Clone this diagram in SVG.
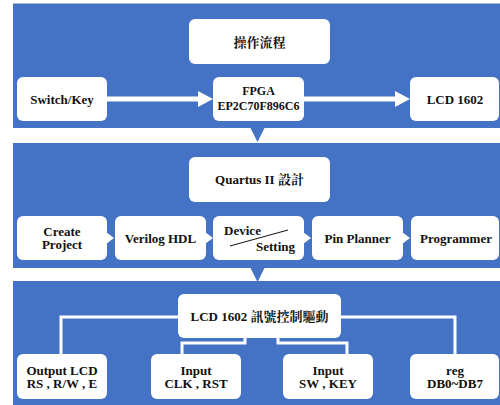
<svg xmlns="http://www.w3.org/2000/svg" width="500" height="405" viewBox="0 0 500 405">
<style>
.panel{fill:#4472C4}
.box{fill:#fff}
.t{font-family:"Liberation Serif","Noto Serif CJK TC","Noto Sans CJK TC",serif;font-weight:bold;font-size:13px;fill:#111;text-anchor:middle}
.s{font-size:12px}
.wl{stroke:#fff;fill:none}
</style>
<rect width="500" height="405" fill="#fff"/>
<g id="panels">
<rect class="panel" x="13" y="4" width="487" height="124"/>
<line x1="13" y1="3.5" x2="500" y2="3.5" stroke="#A8B7D4" stroke-width="1.2"/>
<polygon class="panel" points="250.5,128 264.5,128 257.5,142"/>
<rect class="panel" x="13" y="143" width="487" height="125"/>
<polygon class="panel" points="250.5,268 264.5,268 257.5,282"/>
<rect class="panel" x="13" y="281" width="487" height="124"/>
</g>
<g id="connectors">
<line class="wl" x1="107" y1="99" x2="200" y2="99" stroke-width="5"/>
<polygon fill="#fff" points="198,91 213,99 198,107"/>
<line class="wl" x1="304" y1="99" x2="397" y2="99" stroke-width="5"/>
<polygon fill="#fff" points="395,91 410,99 395,107"/>
<polygon fill="#fff" points="106,232 114,238 106,244"/>
<polygon fill="#fff" points="205,232 213,238 205,244"/>
<polygon fill="#fff" points="303,232 311,238 303,244"/>
<polygon fill="#fff" points="402,232 410,238 402,244"/>
<polyline class="wl" stroke-width="3" points="179,317 61,317 61,355"/>
<polyline class="wl" stroke-width="3" points="340,317 455,317 455,355"/>
<polyline class="wl" stroke-width="3" points="245,337 245,343 182,343 182,355"/>
<polyline class="wl" stroke-width="3" points="278,337 278,343 347,343 347,355"/>
</g>
<g id="n-flow"><rect class="box" x="189" y="19" width="141" height="45" rx="6"/><text class="t" x="259.5" y="46.5">操作流程</text></g>
<g id="n-switch"><rect class="box" x="17" y="77" width="90" height="44" rx="6"/><text class="t" x="62" y="103.5">Switch/Key</text></g>
<g id="n-fpga"><rect class="box" x="213" y="77" width="91" height="44" rx="6"/><text class="t s" x="258.5" y="95">FPGA</text><text class="t s" x="258.5" y="110">EP2C70F896C6</text></g>
<g id="n-lcd"><rect class="box" x="410" y="77" width="89" height="44" rx="6"/><text class="t" x="455" y="103.5">LCD 1602</text></g>
<g id="n-quartus"><rect class="box" x="189" y="157" width="141" height="45" rx="6"/><text class="t" x="259.5" y="184">Quartus II  設計</text></g>
<g id="n-create"><rect class="box" x="17" y="216" width="90" height="44" rx="6"/><text class="t" x="62" y="235.5">Create</text><text class="t" x="62" y="249">Project</text></g>
<g id="n-verilog"><rect class="box" x="115" y="216" width="91" height="44" rx="6"/><text class="t" x="160.5" y="242.5">Verilog HDL</text></g>
<g id="n-device"><rect class="box" x="213" y="216" width="91" height="44" rx="6"/><text class="t" x="242.5" y="235" >Device</text><line x1="230" y1="246" x2="288" y2="230" stroke="#111" stroke-width="1"/><text class="t" x="275.5" y="250.5">Setting</text></g>
<g id="n-pin"><rect class="box" x="312" y="216" width="91" height="44" rx="6"/><text class="t" x="357.5" y="242.5">Pin Planner</text></g>
<g id="n-prog"><rect class="box" x="411" y="216" width="88" height="44" rx="6"/><text class="t" x="456" y="242.5">Programmer</text></g>
<g id="n-ctrl"><rect class="box" x="178" y="294" width="163" height="44" rx="6"/><text class="t" x="259.5" y="320.5">LCD 1602 訊號控制驅動</text></g>
<g id="n-out"><rect class="box" x="17" y="354" width="90" height="45" rx="6"/><text class="t" x="62" y="374.5">Output LCD</text><text class="t" x="62" y="388">RS , R/W , E</text></g>
<g id="n-in1"><rect class="box" x="151" y="354" width="90" height="45" rx="6"/><text class="t" x="196" y="374.5">Input</text><text class="t" x="196" y="388">CLK , RST</text></g>
<g id="n-in2"><rect class="box" x="283" y="354" width="90" height="45" rx="6"/><text class="t" x="328" y="374.5">Input</text><text class="t" x="328" y="388">SW , KEY</text></g>
<g id="n-reg"><rect class="box" x="410" y="354" width="89" height="45" rx="6"/><text class="t" x="455" y="374.5">reg</text><text class="t" x="455" y="388">DB0~DB7</text></g>
</svg>
